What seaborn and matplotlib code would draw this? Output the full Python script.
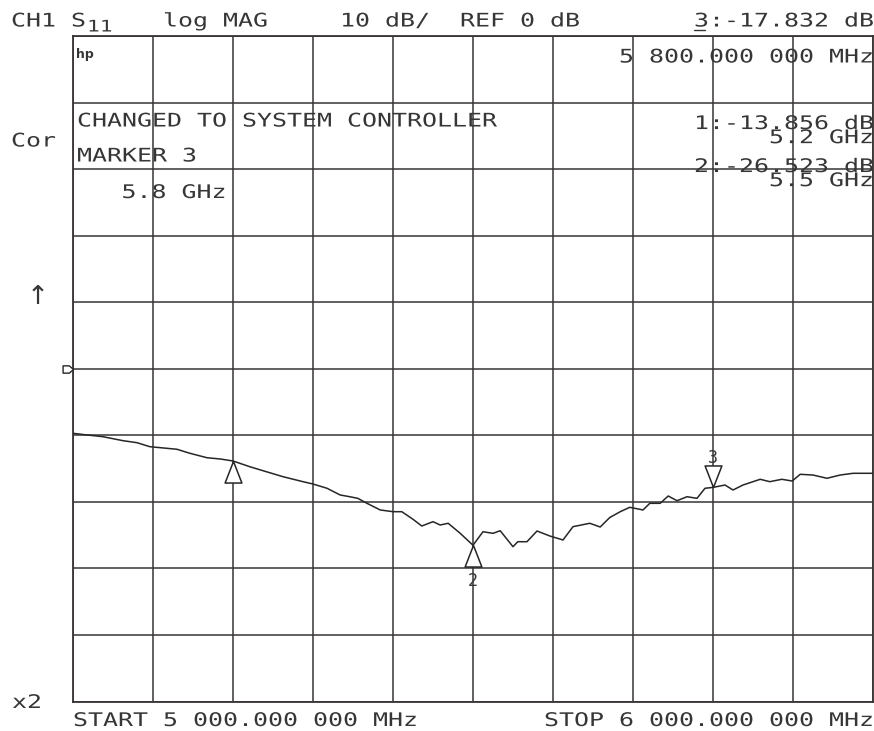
import numpy as np
import pandas as pd
import matplotlib
matplotlib.use("Agg")
import matplotlib.pyplot as plt
import matplotlib.patheffects as pe
from matplotlib.lines import Line2D
from matplotlib.path import Path
from matplotlib.transforms import Affine2D, blended_transform_factory
import seaborn as sns

# =====================================================================
# DONNEES (lues sur l'ecran de l'analyseur)
# =====================================================================

freq_ghz = [5.000, 5.0175, 5.0375, 5.0625, 5.080, 5.096, 5.130, 5.146, 5.1675, 5.184,
            5.200, 5.221, 5.2375, 5.2625, 5.2875, 5.300, 5.3175, 5.334, 5.346, 5.356,
            5.3675, 5.384, 5.400, 5.411, 5.425, 5.436, 5.450, 5.459, 5.469, 5.484,
            5.500, 5.5125, 5.525, 5.534, 5.550, 5.556, 5.5675, 5.580, 5.596, 5.6125,
            5.625, 5.646, 5.659, 5.671, 5.684, 5.696, 5.7125, 5.721, 5.734, 5.744,
            5.755, 5.7675, 5.780, 5.790, 5.800, 5.815, 5.825, 5.8375, 5.859, 5.871,
            5.886, 5.899, 5.909, 5.925, 5.9425, 5.959, 5.975, 6.000]
s11_db = [-9.70, -9.95, -10.21, -10.81, -11.11, -11.71, -12.10, -12.70, -13.37, -13.56,
          -13.86, -14.72, -15.32, -16.22, -16.97, -17.32, -17.96, -18.97, -19.23, -19.47,
          -20.22, -21.22, -21.48, -21.48, -22.62, -23.63, -22.98, -23.48, -23.22, -24.73,
          -26.52, -24.49, -24.73, -24.34, -26.74, -25.99, -25.99, -24.38, -25.13, -25.73,
          -23.73, -23.22, -23.78, -22.35, -21.48, -20.82, -21.22, -20.22, -20.22, -19.12,
          -19.83, -19.23, -19.47, -17.96, -17.83, -17.47, -18.22, -17.47, -16.61, -16.97,
          -16.61, -16.87, -15.86, -15.97, -16.46, -15.97, -15.71, -15.71]

mk_num = [1, 2, 3]
mk_freq = [5.2, 5.5, 5.8]
mk_db = [-13.856, -26.523, -17.832]
mk_up = [True, True, False]      # triangle sous la trace (pointe en haut) ou au-dessus
active_mk = 3

start_mhz = 5000.0
stop_mhz = 6000.0
ref_db = 0
scale_db = 10

# =====================================================================
# STYLE
# =====================================================================

W, H = 874, 731
TXT = "#363636"
GRID = "#383434"
TRACE = "#262626"
MONO = "DejaVu Sans Mono"
FS = 13.5
EM = FS * 100 / 72                # taille em en px
PITCH = 15.0                      # pas des caracteres de l'ecran HP (px)
STRETCH = PITCH / (0.602 * EM)

sns.set_style("white")


class Stretch(pe.AbstractPathEffect):
    """Etire le texte horizontalement (police HP plus large)."""
    def __init__(self, sx):
        super().__init__()
        self.sx = sx

    def draw_path(self, renderer, gc, tpath, affine, rgbFace=None):
        renderer.draw_path(gc, tpath, Affine2D().scale(self.sx, 1.0) + affine, rgbFace)


def fmt_mhz(v):
    ip, fp = f"{v:.6f}".split(".")
    return f"{int(ip):,}".replace(",", " ") + "." + fp[:3] + " " + fp[3:] + " MHz"


def hp_text(x, y, s, right=False, size=FS):
    if right:
        x = x - (len(s) - 1) * PITCH - 11
    fig.text(x / W, 1 - y / H, s, fontsize=size, family=MONO, color=TXT,
             ha="left", va="baseline", path_effects=[Stretch(STRETCH)])
    return x


def hp_block(x_right, y1, lines, step=13.5):
    """Deux lignes serrees (comme l'ecran), calees a droite."""
    n = max(len(t) for t in lines)
    s = "\n".join(t.rjust(n) for t in lines)
    x0 = x_right - (n - 1) * PITCH - 11
    a, dd = 0.76 * EM, 0.208 * EM
    fig.text(x0 / W, 1 - (y1 + a + dd) / H, s, fontsize=FS, family=MONO, color=TXT,
             ha="left", va="baseline", linespacing=(step - dd) / a,
             path_effects=[Stretch(STRETCH)])


# =====================================================================
# FIGURE
# =====================================================================

fig = plt.figure(figsize=(W / 100, H / 100), dpi=100)
ax = fig.add_axes([73 / W, 29.5 / H, 800 / W, 665.5 / H])

df = pd.DataFrame({"freq": freq_ghz, "s11": s11_db})
sns.lineplot(data=df, x="freq", y="s11", ax=ax, color=TRACE, lw=1.1,
             estimator=None, sort=False, zorder=3)

ax.set_xlim(start_mhz / 1000, stop_mhz / 1000)
ax.set_ylim(ref_db - 5 * scale_db, ref_db + 5 * scale_db)
ax.set_xticks(np.linspace(start_mhz / 1000, stop_mhz / 1000, 11))
ax.set_yticks(np.arange(ref_db - 5 * scale_db, ref_db + 5 * scale_db + 1, scale_db))
ax.grid(True, color=GRID, lw=1.1)
ax.tick_params(length=0, labelleft=False, labelbottom=False)
ax.set_xlabel(""); ax.set_ylabel("")
for sp in ax.spines.values():
    sp.set_color(GRID); sp.set_linewidth(1.3)

# marqueurs triangulaires (pointe sur la trace)
tri_up = Path([(0, 0), (-0.39, -1), (0.39, -1), (0, 0)], closed=True)
tri_dn = Path([(0, 0), (-0.39, 1), (0.39, 1), (0, 0)], closed=True)
for n, f, v, up in zip(mk_num, mk_freq, mk_db, mk_up):
    ax.plot([f], [v], ls="none", marker=tri_up if up else tri_dn, ms=31,
            mfc="white", mec=TRACE, mew=1.1, zorder=4)
    if n == 2:
        ax.annotate(str(n), (f, v), xytext=(0, -41), textcoords="offset pixels",
                    ha="center", va="baseline", fontsize=12, family=MONO, color=TXT)
    if n == 3:
        ax.annotate(str(n), (f, v), xytext=(0, 24), textcoords="offset pixels",
                    ha="center", va="baseline", fontsize=12, family=MONO, color=TXT)

# indicateur du niveau de reference
ref_mark = Path([(0, 0), (-0.4, 0.35), (-1, 0.35), (-1, -0.35), (-0.4, -0.35), (0, 0)],
                closed=True)
ax.plot([0], [ref_db], ls="none", marker=ref_mark, ms=15, mfc="white", mec=TRACE,
        mew=1.0, clip_on=False, zorder=5,
        transform=blended_transform_factory(ax.transAxes, ax.transData))

# =====================================================================
# TEXTES DE L'ECRAN
# =====================================================================

hp_text(11, 26.5, "CH1")
hp_text(71, 26.5, "S")
hp_text(87, 31.5, "11", size=11.5)
hp_text(163, 26.5, "log MAG")
hp_text(340, 26.5, f"{scale_db} dB/")
hp_text(460, 26.5, f"REF {ref_db} dB")

i = mk_num.index(active_mk)
x3 = hp_text(870, 26.5, f"{active_mk}:{mk_db[i]:.3f} dB", right=True)
fig.add_artist(Line2D([x3 / W, (x3 + 11) / W], [1 - 29.5 / H] * 2, color=TXT, lw=1.0))
hp_text(870, 62.5, fmt_mhz(mk_freq[i] * 1000), right=True)

for y1, n, f, v in zip([125, 168], mk_num[:2], mk_freq[:2], mk_db[:2]):
    hp_block(870, y1, [f"{n}:{v:.3f} dB", f"{f:.1f} GHz"])

hp_text(77, 126.5, "CHANGED TO SYSTEM CONTROLLER")
hp_text(77, 161.5, f"MARKER {active_mk}")
hp_text(121.5, 198, f"{mk_freq[i]:.1f} GHz")
hp_text(11, 146.5, "Cor")
fig.text(27 / W, 1 - 304 / H, "\u2191", fontsize=19, family="DejaVu Sans",
         color=TXT, ha="left", va="baseline")
hp_text(12, 708, "x2")
hp_text(73, 726, "START " + fmt_mhz(start_mhz))
hp_text(870, 726, "STOP " + fmt_mhz(stop_mhz), right=True)

fig.text(76 / W, 1 - 58 / H, "hp", fontsize=9, fontweight="bold",
         family="DejaVu Sans", color=TXT, ha="left", va="baseline")

fig.savefig("out.png", dpi=100, facecolor="white")
